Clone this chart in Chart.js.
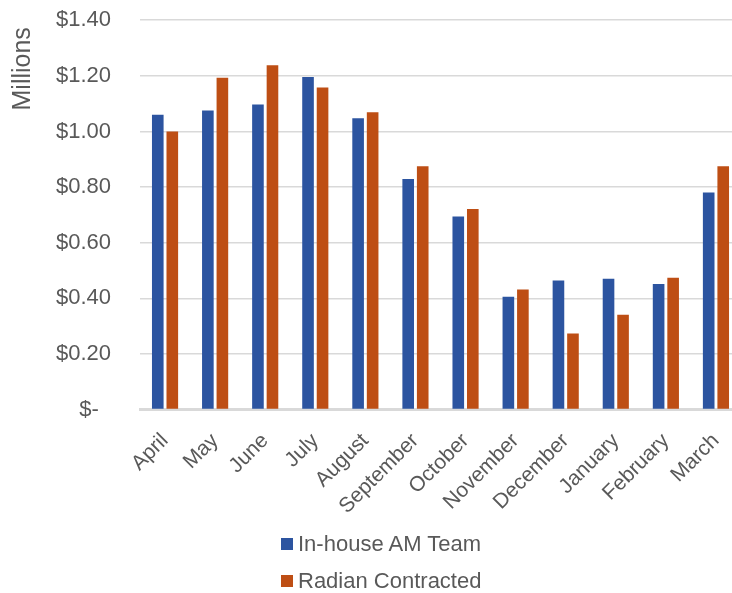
<!DOCTYPE html>
<html>
<head>
<meta charset="utf-8">
<script src="https://cdn.jsdelivr.net/npm/chart.js@4/dist/chart.umd.min.js"></script>
<style>
    html, body { margin: 0; padding: 0; background: #fff; overflow: hidden; }
    #wrap { position: relative; width: 745px; height: 593px; overflow: hidden; }
    #costChart { position: absolute; left: 0; top: -22px; }
    #legend {
        position: absolute; left: 281px; top: 525px;
        font: 22px "Liberation Sans", Arial, sans-serif; color: #595959;
    }
    #legend .item { display: flex; align-items: center; height: 37px; }
    #legend .box { width: 12px; height: 12px; margin-right: 5px; }
</style>
</head>
<body>
<div id="wrap">
    <canvas id="costChart" width="745" height="615"></canvas>
    <div id="legend"></div>
</div>
<script>
// Monthly spend, in millions of dollars
const months = ['April', 'May', 'June', 'July', 'August', 'September',
    'October', 'November', 'December', 'January', 'February', 'March'];
const inHouseTeam = [1.06, 1.075, 1.097, 1.196, 1.047, 0.829, 0.694, 0.406, 0.464, 0.470, 0.451, 0.780];
const radianContracted = [1.00, 1.193, 1.238, 1.158, 1.069, 0.875, 0.721, 0.432, 0.273, 0.341, 0.474, 0.875];
const seriesNames = ['In-house AM Team', 'Radian Contracted'];
const seriesColors = ['#2C54A0', '#BE4E14'];

const textColor = '#595959';
const gridColor = '#d9d9d9';
const fontFamily = '"Liberation Sans", Arial, sans-serif';

Chart.defaults.font.family = fontFamily;
Chart.defaults.color = textColor;

const ctx = document.getElementById('costChart').getContext('2d');
const chart = new Chart(ctx, {
    type: 'bar',
    data: {
        labels: months,
        datasets: [inHouseTeam, radianContracted].map((values, i) => ({
            label: seriesNames[i],
            data: values,
            backgroundColor: seriesColors[i],
            categoryPercentage: 0.58,
            barPercentage: 0.8
        }))
    },
    options: {
        responsive: false,
        animation: false,
        layout: { padding: { left: 8, top: 0, right: 4, bottom: 63 } },
        plugins: {
            legend: { display: false },
            tooltip: { enabled: false }
        },
        scales: {
            x: {
                grid: { display: false },
                border: { display: true, color: gridColor, width: 3 },
                ticks: {
                    font: { size: 21 },
                    maxRotation: 45,
                    minRotation: 45,
                    padding: 11
                }
            },
            y: {
                min: 0,
                max: 1.4,
                border: { display: false },
                grid: { color: gridColor, lineWidth: 1.5, drawTicks: false },
                ticks: {
                    stepSize: 0.2,
                    padding: 29,
                    font: { size: 22 },
                    callback: (v) => v === 0 ? '$-  ' : '$' + v.toFixed(2)
                },
                title: {
                    display: true,
                    text: 'Millions ',
                    align: 'end',
                    font: { size: 25 },
                    padding: { top: 0, bottom: 0 }
                },
                // fixed axis width keeps the title and labels where they belong
                afterFit: (scale) => { scale.width = 132; }
            }
        }
    }
});

// Legend stacked under the axis labels
const legend = document.getElementById('legend');
chart.data.datasets.forEach((ds) => {
    const item = document.createElement('div');
    item.className = 'item';
    item.innerHTML = '<span class="box" style="background:' + ds.backgroundColor + '"></span>' + ds.label;
    legend.appendChild(item);
});
</script>
</body>
</html>
